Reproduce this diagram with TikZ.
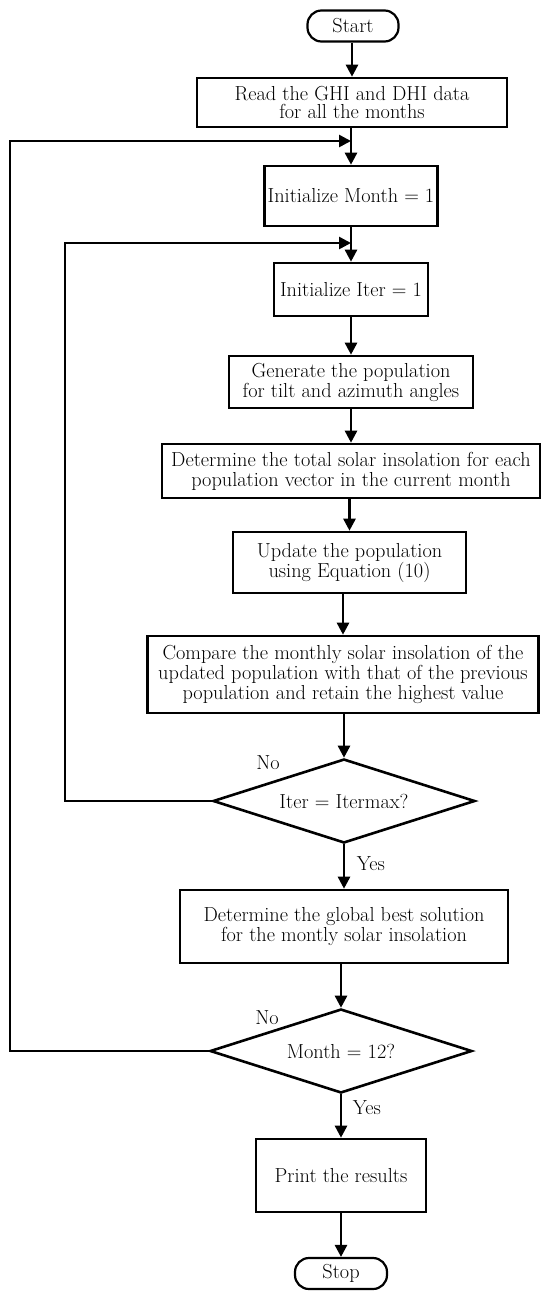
\documentclass[tikz,border=0pt]{standalone}
\usetikzlibrary{arrows.meta,shapes.geometric}
\begin{document}
\begin{tikzpicture}[x=1pt,y=-1pt,
  every node/.style={font=\fontsize{20.3}{20}\selectfont},
  procbox/.style={draw,line width=2.6pt,align=center,inner sep=0pt},
  termbox/.style={draw,line width=2.2pt,rounded corners=14pt,inner sep=0pt},
  decbox/.style={draw,line width=2.6pt,diamond,aspect=3.1,inner sep=0pt,minimum width=262pt,minimum height=84pt},
  arr/.style={line width=2.6pt,-{Triangle[length=12pt,width=12pt]}},
  lbl/.style={font=\fontsize{20.3}{20}\selectfont}
]
\useasboundingbox (0,0) rectangle (550,1301);
\node[termbox,minimum width=91pt,minimum height=31pt] (start) at (353,26) {Start};
\node[procbox,minimum width=310pt,minimum height=49pt,font=\fontsize{20.3}{18.5}\selectfont] (read) at (352,102.5) {Read the GHI and DHI data\\for all the months};
\node[procbox,minimum width=173pt,minimum height=60pt] (imonth) at (351,196) {Initialize Month = 1};
\node[procbox,minimum width=154pt,minimum height=53pt] (iiter) at (351,289.5) {Initialize Iter = 1};
\node[procbox,minimum width=244pt,minimum height=52pt] (gen) at (351,382) {Generate the population\\for tilt and azimuth angles};
\node[procbox,minimum width=378pt,minimum height=54pt] (det) at (351,471) {Determine the total solar insolation for each\\population vector in the current month};
\node[procbox,minimum width=233pt,minimum height=61pt] (upd) at (349.5,562.5) {Update the population\\using Equation (10)};
\node[procbox,minimum width=391pt,minimum height=77pt] (cmp) at (343,674.5) {Compare the monthly solar insolation of the\\updated population with that of the previous\\population and retain the highest value};
\node[decbox] (d1) at (344,801) {Iter = Itermax?};
\node[procbox,minimum width=328pt,minimum height=73pt] (glob) at (344,926.5) {Determine the global best solution\\for the montly solar insolation};
\node[decbox] (d2) at (341,1051) {Month = 12?};
\node[procbox,minimum width=170pt,minimum height=73pt] (prt) at (341,1175.5) {Print the results};
\node[termbox,minimum width=92pt,minimum height=31pt] (stop) at (341,1273.5) {Stop};

\node[lbl] (no1) at (268,763) {No};
\node[lbl] (yes1) at (371,864) {Yes};
\node[lbl] (no2) at (267,1018) {No};
\node[lbl] (yes2) at (367,1108) {Yes};

\draw[arr] (start.south -| read.north) -- (read.north);
\draw[arr] (read.south -| imonth.north) -- (imonth.north);
\draw[arr] (imonth.south -| iiter.north) -- (iiter.north);
\draw[arr] (iiter.south -| gen.north) -- (gen.north);
\draw[arr] (gen.south -| det.north) -- (det.north);
\draw[arr] (det.south -| upd.north) -- (upd.north);
\draw[arr] (upd.south -| cmp.north) -- (cmp.north);
\draw[arr] (cmp.south -| d1.north) -- (d1.north);
\draw[arr] (d1.south -| glob.north) -- (glob.north);
\draw[arr] (glob.south -| d2.north) -- (d2.north);
\draw[arr] (d2.south -| prt.north) -- (prt.north);
\draw[arr] (prt.south -| stop.north) -- (stop.north);

\coordinate (j1) at (351,141);
\coordinate (c1) at (10,141);
\coordinate (j2) at (351,243);
\coordinate (c2) at (65,243);
\draw[arr] (d2.west) -| (c1) -- (j1);
\draw[arr] (d1.west) -| (c2) -- (j2);
\end{tikzpicture}
\end{document}
